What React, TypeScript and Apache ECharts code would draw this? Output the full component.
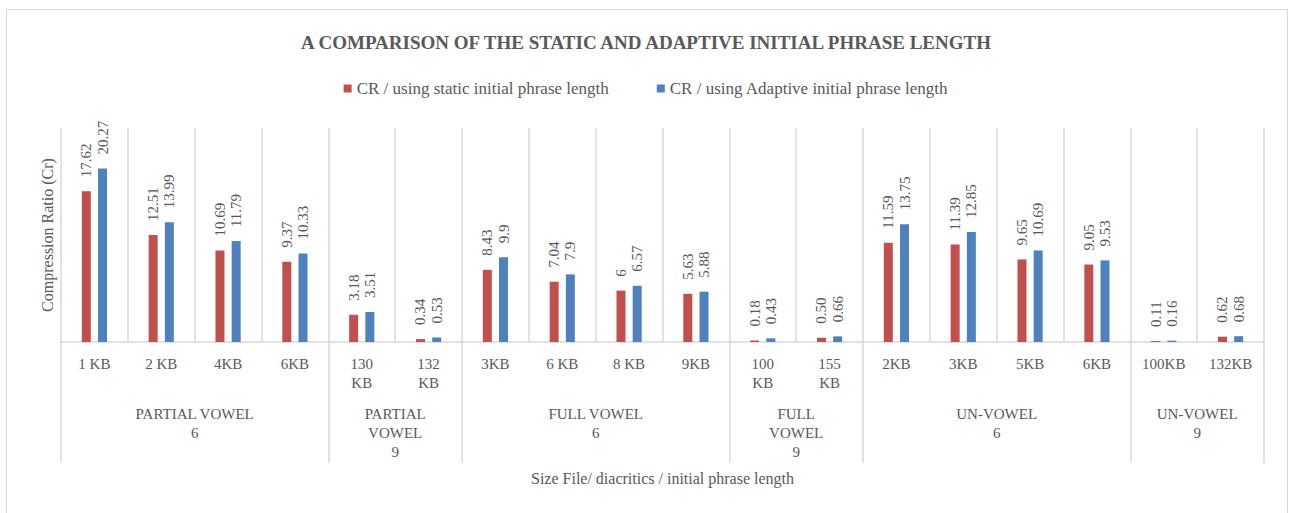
import React, { useEffect, useRef } from "react";
import * as echarts from "echarts";

const categories = [
  "1 KB", "2 KB", "4KB", "6KB", "130 KB", "132 KB",
  "3KB", "6 KB", "8 KB", "9KB", "100 KB", "155 KB",
  "2KB", "3KB", "5KB", "6KB", "100KB", "132KB",
];
const staticLabels = [
  "17.62", "12.51", "10.69", "9.37", "3.18", "0.34",
  "8.43", "7.04", "6", "5.63", "0.18", "0.50",
  "11.59", "11.39", "9.65", "9.05", "0.11", "0.62",
];
const adaptiveLabels = [
  "20.27", "13.99", "11.79", "10.33", "3.51", "0.53",
  "9.9", "7.9", "6.57", "5.88", "0.43", "0.66",
  "13.75", "12.85", "10.69", "9.53", "0.16", "0.68",
];
const groupNames = ["PARTIAL VOWEL", "PARTIAL VOWEL", "FULL VOWEL", "FULL VOWEL", "UN-VOWEL", "UN-VOWEL"];
const groupPhraseLengths = ["6", "9", "6", "9", "6", "9"];
const groupSizes = [4, 2, 4, 2, 4, 2];
const seriesNames = [
  "CR / using static initial phrase length",
  "CR / using Adaptive initial phrase length",
];

const FONT = "'Liberation Serif', 'Times New Roman', serif";
const TEXT = "#595959";
const GRID = "#d9d9d9";

export default function App() {
  const ref = useRef<HTMLDivElement>(null);
  useEffect(() => {
    if (!ref.current) return;
    const chart = echarts.init(ref.current, undefined, { renderer: "svg" });

    const boundaries: number[] = [0];
    const centers: number[] = [];
    const groupLabelMap: Record<number, string> = {};
    groupSizes.forEach((s, i) => {
      const start = boundaries[boundaries.length - 1];
      const c = start + s / 2;
      centers.push(c);
      const name = s <= 2 && groupNames[i].includes(" ") ? groupNames[i].replace(" ", "\n") : groupNames[i];
      groupLabelMap[c] = name + "\n" + groupPhraseLengths[i];
      boundaries.push(start + s);
    });
    const total = boundaries[boundaries.length - 1];

    const labelCommon = {
      show: true,
      position: "top" as const,
      rotate: 90,
      align: "left" as const,
      verticalAlign: "middle" as const,
      distance: 14,
      color: TEXT,
      fontFamily: FONT,
      fontSize: 15,
    };

    chart.setOption({
      animation: false,
      backgroundColor: "#ffffff",
      title: {
        text: "A COMPARISON OF THE STATIC AND ADAPTIVE INITIAL PHRASE LENGTH",
        left: "center",
        top: 28,
        textStyle: { color: TEXT, fontFamily: FONT, fontSize: 19, fontWeight: "bold" },
      },
      legend: {
        top: 75,
        left: "center",
        icon: "rect",
        itemWidth: 8,
        itemHeight: 8,
        itemGap: 48,
        textStyle: { color: TEXT, fontFamily: FONT, fontSize: 17 },
        data: seriesNames,
      },
      graphic: [
        {
          type: "rect",
          shape: { x: 6.5, y: 9.5, width: 1281, height: 520 },
          style: { fill: "none", stroke: GRID, lineWidth: 1 },
          silent: true,
          z: -10,
        },
      ],
      grid: { left: 61, right: 28, top: 128, bottom: 171 },
      xAxis: [
        {
          type: "category",
          data: categories,
          boundaryGap: true,
          axisLine: { show: true, lineStyle: { color: GRID, width: 1.5 } },
          axisTick: { show: false },
          splitLine: { show: true, interval: 0, lineStyle: { color: GRID, width: 1.5 } },
          axisLabel: {
            interval: 0,
            margin: 12,
            color: TEXT,
            fontFamily: FONT,
            fontSize: 15,
            lineHeight: 19,
            formatter: (v: string) => (v.includes(" ") && v.length > 5 ? v.replace(" ", "\n") : v),
          },
          name: "Size File/ diacritics / initial phrase length",
          nameLocation: "middle",
          nameGap: 128,
          nameTextStyle: { color: TEXT, fontFamily: FONT, fontSize: 16 },
        },
        {
          type: "value",
          min: 0,
          max: total,
          interval: 1,
          position: "bottom",
          axisLine: { show: false },
          splitLine: { show: false },
          axisTick: {
            show: true,
            inside: false,
            length: 121,
            customValues: boundaries,
            lineStyle: { color: GRID, width: 1.5 },
          },
          axisLabel: {
            show: true,
            customValues: centers,
            margin: 62,
            color: TEXT,
            fontFamily: FONT,
            fontSize: 15,
            lineHeight: 19,
            formatter: (v: number) => groupLabelMap[v] ?? "",
          },
        },
      ],
      yAxis: {
        type: "value",
        min: 0,
        max: 25,
        axisLine: { show: false },
        axisTick: { show: false },
        axisLabel: { show: false },
        splitLine: { show: false },
        name: "Compression Ratio (Cr)",
        nameLocation: "middle",
        nameRotate: 90,
        nameGap: 6,
        nameTextStyle: { color: TEXT, fontFamily: FONT, fontSize: 16 },
      },
      series: [
        {
          name: seriesNames[0],
          type: "bar",
          xAxisIndex: 0,
          barWidth: 9,
          barGap: "80%",
          itemStyle: { color: "#C0504D" },
          data: staticLabels.map(Number),
          label: { ...labelCommon, formatter: (p: any) => staticLabels[p.dataIndex] },
        },
        {
          name: seriesNames[1],
          type: "bar",
          xAxisIndex: 0,
          barWidth: 9,
          barGap: "80%",
          itemStyle: { color: "#4F81BD" },
          data: adaptiveLabels.map(Number),
          label: { ...labelCommon, formatter: (p: any) => adaptiveLabels[p.dataIndex] },
        },
      ],
    });
    return () => chart.dispose();
  }, []);
  return (
    <div
      ref={ref}
      style={{ position: "fixed", left: 0, top: 0, width: 1292, height: 513 }}
    />
  );
}
